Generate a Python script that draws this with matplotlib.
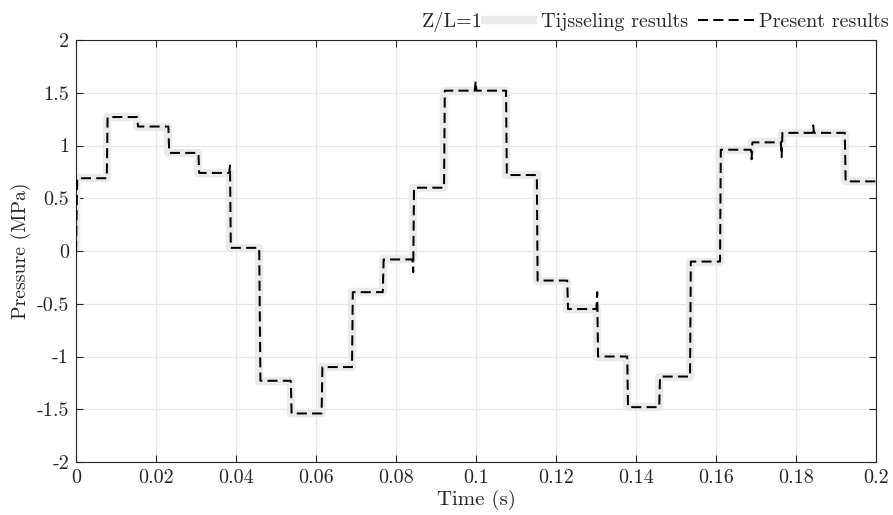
import numpy as np
import matplotlib
matplotlib.use("Agg")
import matplotlib.pyplot as plt

plt.rcParams['font.family'] = 'serif'
plt.rcParams['font.serif'] = ['cmr10']
plt.rcParams['mathtext.fontset'] = 'cm'
plt.rcParams['axes.unicode_minus'] = False
plt.rcParams['axes.formatter.use_mathtext'] = False

# ---- data ----
# Tijsseling results: step levels and switching times
t_switch = [0.0, 0.0077, 0.0153, 0.0231, 0.0306, 0.0385, 0.0458, 0.0537, 0.0614,
            0.0690, 0.0767, 0.0843, 0.0920, 0.1075, 0.1152, 0.1228, 0.1303,
            0.1378, 0.1458, 0.1535, 0.1610, 0.1689, 0.1764, 0.1922, 0.2]
p_level = [0.69, 1.27, 1.18, 0.93, 0.74, 0.03, -1.23, -1.54, -1.10, -0.39,
           -0.08, 0.60, 1.52, 0.72, -0.28, -0.55, -1.00, -1.48, -1.19, -0.10,
           0.96, 1.03, 1.12, 0.66]

# Present results: polyline vertices (with the small overshoots)
t_present = [0.0, 0.0003, 0.0077, 0.0079, 0.0153, 0.0155, 0.0231, 0.0233,
             0.0306, 0.0308, 0.0383, 0.0385, 0.0387, 0.0458, 0.0461, 0.0537,
             0.0539, 0.0614, 0.0616, 0.0690, 0.0692, 0.0767, 0.0769, 0.0841,
             0.0843, 0.0845, 0.0920, 0.0922, 0.0997, 0.0999, 0.1001, 0.1075,
             0.1077, 0.1152, 0.1154, 0.1228, 0.1230, 0.1301, 0.1303, 0.1305,
             0.1378, 0.1380, 0.1458, 0.1460, 0.1535, 0.1537, 0.1610, 0.1612,
             0.1687, 0.1689, 0.1691, 0.1762, 0.1764, 0.1766, 0.1841, 0.1843,
             0.1845, 0.1922, 0.1924, 0.2]
p_present = [0.0, 0.69, 0.69, 1.27, 1.27, 1.18, 1.18, 0.93,
             0.93, 0.74, 0.74, 0.81, 0.03, 0.03, -1.23, -1.23,
             -1.54, -1.54, -1.10, -1.10, -0.39, -0.39, -0.08, -0.08,
             -0.20, 0.60, 0.60, 1.52, 1.52, 1.61, 1.52, 1.52,
             0.72, 0.72, -0.28, -0.28, -0.55, -0.55, -0.39, -1.00,
             -1.00, -1.48, -1.48, -1.19, -1.19, -0.10, -0.10, 0.96,
             0.96, 0.87, 1.03, 1.03, 0.89, 1.12, 1.12, 1.19,
             1.12, 1.12, 0.66, 0.66]

x_ticks = [0, 0.02, 0.04, 0.06, 0.08, 0.1, 0.12, 0.14, 0.16, 0.18, 0.2]
x_ticklabels = ['0', '0.02', '0.04', '0.06', '0.08', '0.1', '0.12', '0.14', '0.16', '0.18', '0.2']
y_ticks = [-2, -1.5, -1, -0.5, 0, 0.5, 1, 1.5, 2]
y_ticklabels = ['-2', '-1.5', '-1', '-0.5', '0', '0.5', '1', '1.5', '2']

fig = plt.figure(figsize=(8.93, 5.15), dpi=100)
ax = fig.add_axes([0.0851, 0.1029, 0.8959, 0.8194])

# reference curve: thick light gray, starting from zero
t_ref = [0.0] + t_switch
p_ref = [0.0] + p_level + [p_level[-1]]
ax.step(t_ref, p_ref, where='post', color='#ebebeb', lw=6, solid_capstyle='butt',
        label='Tijsseling results', zorder=2)
ax.plot(t_present, p_present, color='black', lw=1.45, ls=(0, (5, 2.6)),
        label='Present results', zorder=3)

ax.set_xlim(0, 0.2)
ax.set_ylim(-2, 2)
ax.set_xticks(x_ticks)
ax.set_xticklabels(x_ticklabels)
ax.set_yticks(y_ticks)
ax.set_yticklabels(y_ticklabels)
ax.grid(True, color='#e6e6e6', lw=0.9)
ax.set_axisbelow(True)
ax.tick_params(direction='in', length=5, width=0.8, labelsize=14.5, top=True, right=True,
               colors='#262626', labelcolor='#262626', pad=5)
for s in ax.spines.values():
    s.set_color('#262626')
    s.set_linewidth(0.8)

ax.set_xlabel('Time (s)', fontsize=15, color='#262626', labelpad=2)
ax.set_ylabel('Pressure (MPa)', fontsize=14.3, color='#262626', labelpad=4)

# legend above the axes, with the case label on its left
fig.text(0.472, 0.958, 'Z/L=1', fontsize=14.5, ha='left', va='center', color='#262626')
leg = fig.legend(loc='center right', bbox_to_anchor=(1.004, 0.958), ncol=2, frameon=False,
                 fontsize=14.5, handlelength=2.8, handletextpad=0.2, columnspacing=0.5,
                 borderaxespad=0.0)
for txt in leg.get_texts():
    txt.set_color('#262626')

fig.savefig('out.png', dpi=100)
